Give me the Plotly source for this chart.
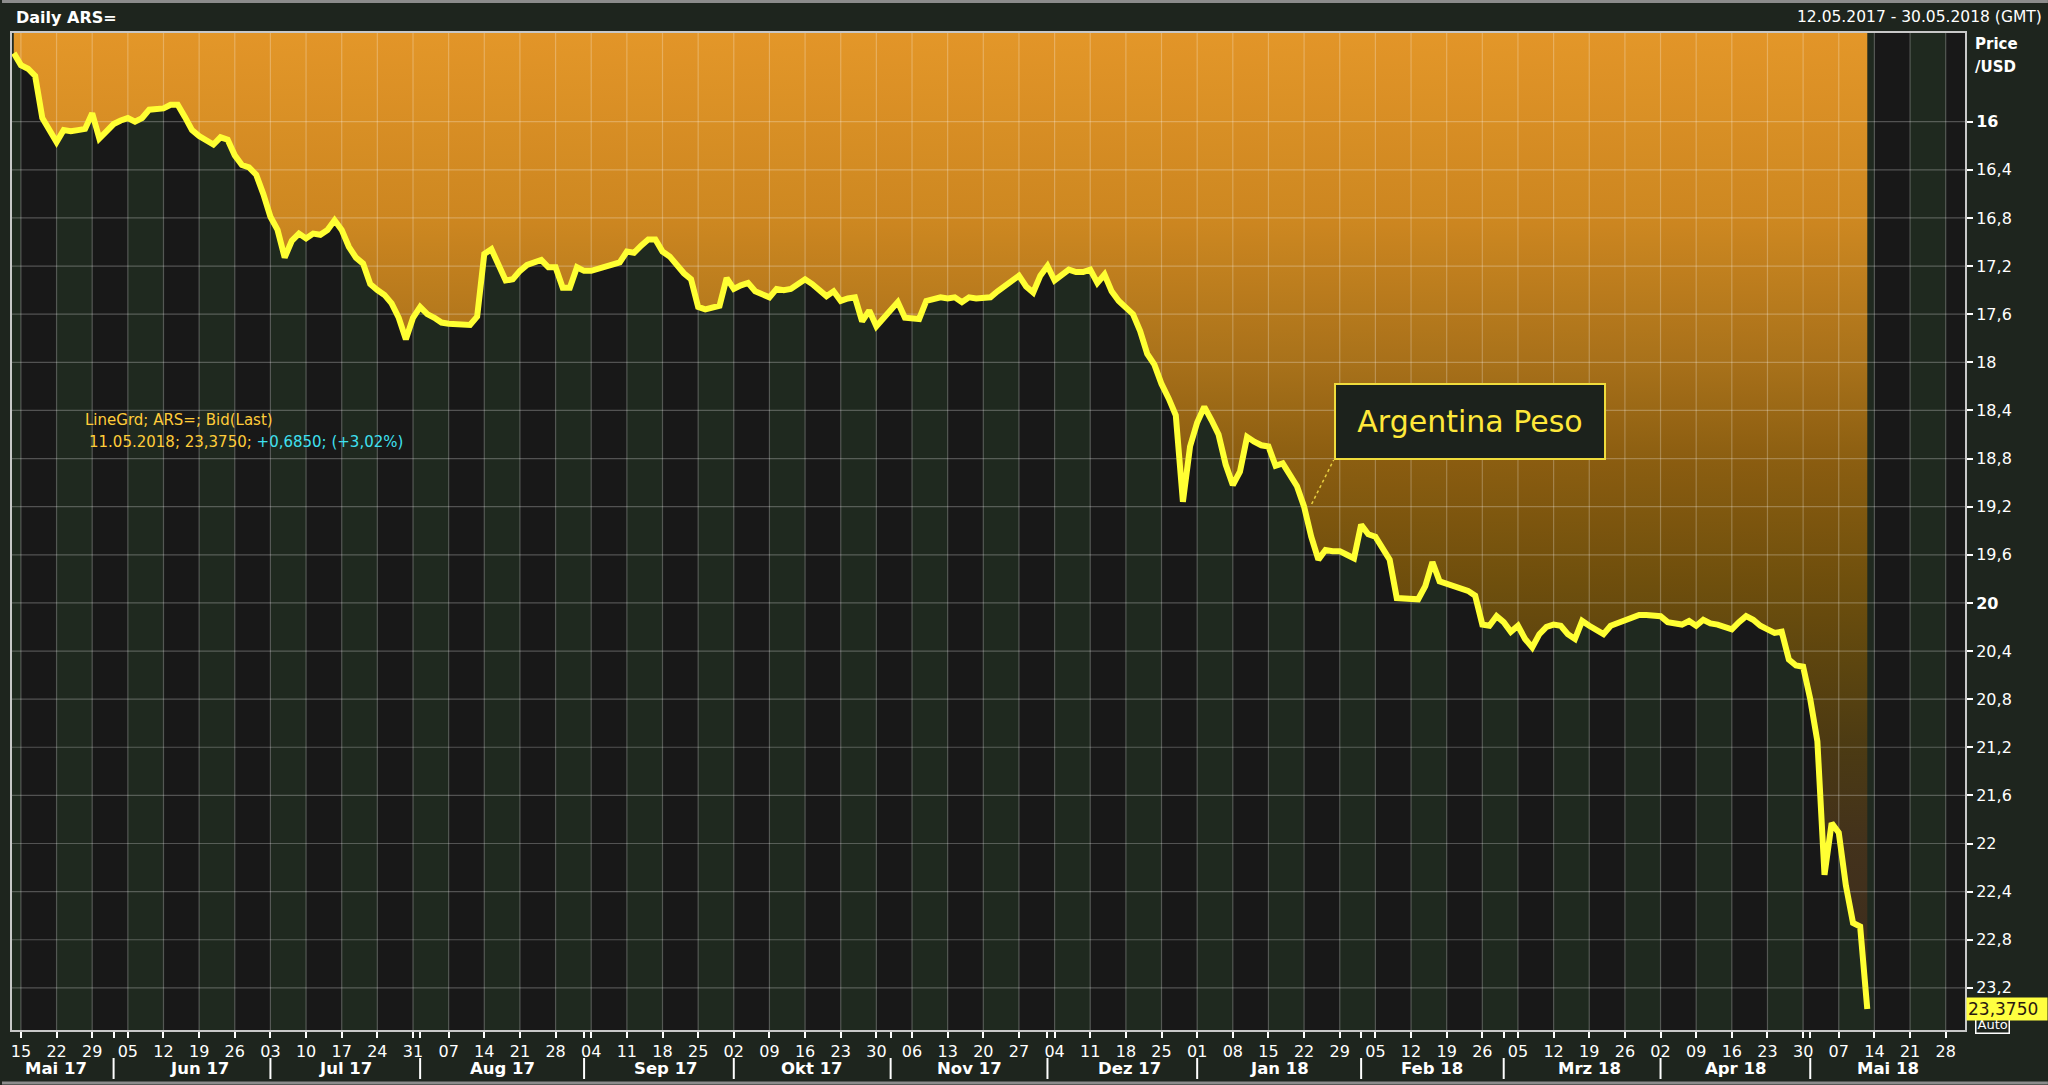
import pandas as pd
import plotly.graph_objects as go

# ARS= daily bid (last)
DATES = [
    "2017-05-12", "2017-05-15", "2017-05-16", "2017-05-17", "2017-05-18", "2017-05-19", "2017-05-22",
    "2017-05-23", "2017-05-24", "2017-05-25", "2017-05-26", "2017-05-29", "2017-05-30", "2017-05-31",
    "2017-06-01", "2017-06-02", "2017-06-05", "2017-06-06", "2017-06-07", "2017-06-08", "2017-06-09",
    "2017-06-12", "2017-06-13", "2017-06-14", "2017-06-15", "2017-06-16", "2017-06-19", "2017-06-20",
    "2017-06-21", "2017-06-22", "2017-06-23", "2017-06-26", "2017-06-27", "2017-06-28", "2017-06-29",
    "2017-06-30",
    "2017-07-03", "2017-07-04", "2017-07-05", "2017-07-06", "2017-07-07", "2017-07-10", "2017-07-11",
    "2017-07-12", "2017-07-13", "2017-07-14", "2017-07-17", "2017-07-18", "2017-07-19", "2017-07-20",
    "2017-07-21", "2017-07-24", "2017-07-25", "2017-07-26", "2017-07-27", "2017-07-28", "2017-07-31",
    "2017-08-01", "2017-08-02", "2017-08-03", "2017-08-04", "2017-08-07", "2017-08-08", "2017-08-09",
    "2017-08-10", "2017-08-11", "2017-08-14", "2017-08-15", "2017-08-16", "2017-08-17", "2017-08-18",
    "2017-08-21", "2017-08-22", "2017-08-23", "2017-08-24", "2017-08-25", "2017-08-28", "2017-08-29",
    "2017-08-30", "2017-08-31",
    "2017-09-01", "2017-09-04", "2017-09-05", "2017-09-06", "2017-09-07", "2017-09-08", "2017-09-11",
    "2017-09-12", "2017-09-13", "2017-09-14", "2017-09-15", "2017-09-18", "2017-09-19", "2017-09-20",
    "2017-09-21", "2017-09-22", "2017-09-25", "2017-09-26", "2017-09-27", "2017-09-28", "2017-09-29",
    "2017-10-02", "2017-10-03", "2017-10-04", "2017-10-05", "2017-10-06", "2017-10-09", "2017-10-10",
    "2017-10-11", "2017-10-12", "2017-10-13", "2017-10-16", "2017-10-17", "2017-10-18", "2017-10-19",
    "2017-10-20", "2017-10-23", "2017-10-24", "2017-10-25", "2017-10-26", "2017-10-27", "2017-10-30",
    "2017-10-31",
    "2017-11-01", "2017-11-02", "2017-11-03", "2017-11-06", "2017-11-07", "2017-11-08", "2017-11-09",
    "2017-11-10", "2017-11-13", "2017-11-14", "2017-11-15", "2017-11-16", "2017-11-17", "2017-11-20",
    "2017-11-21", "2017-11-22", "2017-11-23", "2017-11-24", "2017-11-27", "2017-11-28", "2017-11-29",
    "2017-11-30",
    "2017-12-01", "2017-12-04", "2017-12-05", "2017-12-06", "2017-12-07", "2017-12-08", "2017-12-11",
    "2017-12-12", "2017-12-13", "2017-12-14", "2017-12-15", "2017-12-18", "2017-12-19", "2017-12-20",
    "2017-12-21", "2017-12-22", "2017-12-25", "2017-12-26", "2017-12-27", "2017-12-28", "2017-12-29",
    "2018-01-01", "2018-01-02", "2018-01-03", "2018-01-04", "2018-01-05", "2018-01-08", "2018-01-09",
    "2018-01-10", "2018-01-11", "2018-01-12", "2018-01-15", "2018-01-16", "2018-01-17", "2018-01-18",
    "2018-01-19", "2018-01-22", "2018-01-23", "2018-01-24", "2018-01-25", "2018-01-26", "2018-01-29",
    "2018-01-30", "2018-01-31",
    "2018-02-01", "2018-02-02", "2018-02-05", "2018-02-06", "2018-02-07", "2018-02-08", "2018-02-09",
    "2018-02-12", "2018-02-13", "2018-02-14", "2018-02-15", "2018-02-16", "2018-02-19", "2018-02-20",
    "2018-02-21", "2018-02-22", "2018-02-23", "2018-02-26", "2018-02-27", "2018-02-28",
    "2018-03-01", "2018-03-02", "2018-03-05", "2018-03-06", "2018-03-07", "2018-03-08", "2018-03-09",
    "2018-03-12", "2018-03-13", "2018-03-14", "2018-03-15", "2018-03-16", "2018-03-19", "2018-03-20",
    "2018-03-21", "2018-03-22", "2018-03-23", "2018-03-26", "2018-03-27", "2018-03-28", "2018-03-29",
    "2018-04-02", "2018-04-03", "2018-04-04", "2018-04-05", "2018-04-06", "2018-04-09", "2018-04-10",
    "2018-04-11", "2018-04-12", "2018-04-13", "2018-04-16", "2018-04-17", "2018-04-18", "2018-04-19",
    "2018-04-20", "2018-04-23", "2018-04-24", "2018-04-25", "2018-04-26", "2018-04-27", "2018-04-30",
    "2018-05-01", "2018-05-02", "2018-05-03", "2018-05-04", "2018-05-07", "2018-05-08", "2018-05-09",
    "2018-05-10", "2018-05-11",
]
PRICES = [
    15.43, 15.53, 15.56, 15.62, 15.97, 16.08, 16.17, 16.07, 16.08, 16.07, 16.06, 15.93, 16.14, 16.08,
    16.02, 15.99, 15.97, 16.00, 15.97, 15.90, 15.89, 15.89, 15.86, 15.86, 15.96, 16.07, 16.12, 16.16,
    16.19, 16.13, 16.15, 16.28, 16.36, 16.38, 16.44, 16.60,
    16.79, 16.90, 17.13, 16.99, 16.93, 16.97, 16.93, 16.94, 16.90, 16.82, 16.90, 17.04, 17.13, 17.18,
    17.35, 17.40, 17.44, 17.51, 17.63, 17.81, 17.63,
    17.54, 17.60, 17.63, 17.67, 17.68, 17.68, 17.68, 17.69, 17.62, 17.10, 17.06, 17.18, 17.32, 17.31,
    17.24, 17.19, 17.17, 17.15, 17.21, 17.21, 17.38, 17.38, 17.21,
    17.24, 17.24, 17.22, 17.20, 17.18, 17.17, 17.08, 17.09, 17.03, 16.98, 16.98, 17.08, 17.12, 17.20,
    17.26, 17.31, 17.54, 17.56, 17.55, 17.53, 17.30,
    17.39, 17.36, 17.34, 17.41, 17.44, 17.46, 17.39, 17.40, 17.39, 17.35, 17.31, 17.35, 17.40, 17.45,
    17.41, 17.49, 17.47, 17.46, 17.66, 17.57, 17.70, 17.63,
    17.56, 17.50, 17.63, 17.63, 17.64, 17.49, 17.48, 17.46, 17.47, 17.46, 17.50, 17.46, 17.47, 17.46,
    17.46, 17.41, 17.37, 17.33, 17.28, 17.37, 17.42, 17.28,
    17.20, 17.32, 17.28, 17.23, 17.25, 17.25, 17.23, 17.34, 17.27, 17.41, 17.49, 17.54, 17.60, 17.74,
    17.93, 18.02, 18.18, 18.30, 18.44, 19.16, 18.70,
    18.50, 18.37, 18.48, 18.60, 18.85, 19.02, 18.91, 18.62, 18.66, 18.69, 18.70, 18.86, 18.84, 18.93,
    19.03, 19.20, 19.45, 19.64, 19.56, 19.57, 19.57, 19.60, 19.63,
    19.35, 19.43, 19.45, 19.55, 19.64, 19.96, 19.96, 19.96, 19.97, 19.86, 19.66, 19.82, 19.84, 19.85,
    19.88, 19.90, 19.94, 20.18, 20.19, 20.11,
    20.16, 20.24, 20.19, 20.30, 20.37, 20.26, 20.20, 20.18, 20.19, 20.26, 20.30, 20.15, 20.19, 20.22,
    20.26, 20.19, 20.17, 20.15, 20.12, 20.10, 20.10,
    20.11, 20.16, 20.17, 20.18, 20.15, 20.19, 20.14, 20.17, 20.18, 20.20, 20.22, 20.16, 20.11, 20.14,
    20.19, 20.22, 20.25, 20.24, 20.47, 20.52, 20.53,
    20.80, 21.15, 22.26, 21.83, 21.91, 22.35, 22.66, 22.69, 23.375,
]

Y_TICKS = [16.0, 16.4, 16.8, 17.2, 17.6, 18.0, 18.4, 18.8, 19.2, 19.6,
           20.0, 20.4, 20.8, 21.2, 21.6, 22.0, 22.4, 22.8, 23.2]
Y_TICK_LABELS = ["<b>16</b>", "16,4", "16,8", "17,2", "17,6", "18", "18,4", "18,8", "19,2", "19,6",
                 "<b>20</b>", "20,4", "20,8", "21,2", "21,6", "22", "22,4", "22,8", "23,2"]
MONTH_LABELS = ["Mai 17", "Jun 17", "Jul 17", "Aug 17", "Sep 17", "Okt 17", "Nov 17",
                "Dez 17", "Jan 18", "Feb 18", "Mrz 18", "Apr 18", "Mai 18"]

X_START, X_END = "2017-05-11 18:00", "2018-05-30 17:00"
Y_TOP, Y_BOTTOM = 15.263, 23.55
FILL_TOP = 15.0

W, H = 2048, 1085
ML, MR, MT, MB = 10, 83, 33, 55
FONT = "DejaVu Sans"
BG = "#1e251e"
BLACK_COL = "#181818"
GREEN_COL = "#1f291f"

# orange "LineGrd" gradient, slightly see-through so the grid shows
FILL_SCALE = [
    [0.00, "rgba(249,163,42,0.9)"],
    [0.19, "rgba(224,146,33,0.9)"],
    [0.33, "rgba(184,122,26,0.9)"],
    [0.43, "rgba(151,100,15,0.9)"],
    [0.55, "rgba(120,84,11,0.9)"],
    [0.63, "rgba(100,73,13,0.9)"],
    [0.72, "rgba(80,60,18,0.9)"],
    [0.81, "rgba(71,51,27,0.9)"],
    [1.00, "rgba(60,42,30,0.9)"],
]


def px_x(p):
    return (p - ML) / (W - ML - MR)


def px_y(p):
    return (H - MB - p) / (H - MT - MB)


def de(v, n):
    return f"{v:.{n}f}".replace(".", ",")


def main():
    assert len(DATES) == len(PRICES)
    dates = pd.to_datetime(DATES)
    x0, x1 = pd.Timestamp(X_START), pd.Timestamp(X_END)
    mondays = pd.date_range("2017-05-08", "2018-05-28", freq="W-MON")
    week_ticks = mondays[1:]
    month_starts = pd.date_range("2017-05-01", "2018-06-30", freq="BMS")

    fig = go.Figure()

    # area between the top of the plot and the price line
    fig.add_trace(go.Scatter(x=dates, y=[FILL_TOP] * len(dates), mode="lines",
                             line=dict(width=0), hoverinfo="skip", showlegend=False))
    fig.add_trace(go.Scatter(x=dates, y=PRICES, mode="lines", line=dict(width=0),
                             fill="tonexty",
                             fillgradient=dict(type="vertical", colorscale=FILL_SCALE,
                                               start=Y_TOP, stop=Y_BOTTOM),
                             hoverinfo="skip", showlegend=False))

    # grid as a trace: above the fill, below the line
    gx, gy = [], []
    for d in week_ticks:
        gx += [d, d, None]
        gy += [Y_BOTTOM + 1, FILL_TOP - 1, None]
    for v in Y_TICKS:
        gx += [x0 - pd.Timedelta(days=7), x1 + pd.Timedelta(days=7), None]
        gy += [v, v, None]
    fig.add_trace(go.Scatter(x=gx, y=gy, mode="lines",
                             line=dict(color="rgba(255,255,255,0.25)", width=1.2),
                             hoverinfo="skip", showlegend=False))

    fig.add_trace(go.Scatter(x=dates, y=PRICES, mode="lines",
                             line=dict(color="#ffff33", width=6),
                             hoverinfo="skip", showlegend=False))

    shapes = []
    # alternating weekly columns
    for i, d in enumerate(mondays):
        if i % 2 == 0:
            shapes.append(dict(type="rect", xref="x", yref="paper", x0=d, x1=d + pd.Timedelta(days=7),
                               y0=0, y1=1, fillcolor=GREEN_COL, line=dict(width=0), layer="below"))
    # month separators under the day labels
    for d in month_starts[1:-1]:
        shapes.append(dict(type="line", xref="x", yref="paper", x0=d, x1=d,
                           y0=px_y(1058), y1=px_y(1079), line=dict(color="white", width=2)))
    # leader from the label box to the line
    shapes.append(dict(type="line", xref="paper", yref="paper",
                       x0=px_x(1311), y0=px_y(504), x1=px_x(1333), y1=px_y(460),
                       line=dict(color="#e8d040", width=1.5, dash="dot")))
    # window frame lines
    for yy in (1.5, 1083):
        shapes.append(dict(type="line", xref="paper", yref="paper", x0=px_x(0), x1=px_x(W),
                           y0=px_y(yy), y1=px_y(yy), line=dict(color="#8c8c8c", width=3)))

    annotations = []
    for i, label in enumerate(MONTH_LABELS):
        a = max(month_starts[i], x0)
        b = min(month_starts[i + 1], x1)
        annotations.append(dict(x=a + (b - a) / 2, y=px_y(1068), xref="x", yref="paper",
                                text=f"<b>{label}</b>", showarrow=False, yanchor="middle",
                                font=dict(family=FONT, size=16.5, color="white")))

    last, prev = PRICES[-1], PRICES[-2]
    chg = last - prev
    pct = chg / prev * 100
    legend2 = (f"{dates[-1].strftime('%d.%m.%Y')}; {de(last, 4)}; "
               f"<span style='color:#3fe0f0'>+{de(chg, 4)}; (+{de(pct, 2)}%)</span>")

    annotations += [
        dict(x=px_x(12), y=px_y(17), xref="paper", yref="paper", text="<b>Daily ARS=</b>",
             showarrow=False, xanchor="left", yanchor="middle",
             font=dict(family=FONT, size=16, color="white")),
        dict(x=px_x(2044), y=px_y(17), xref="paper", yref="paper",
             text="12.05.2017 - 30.05.2018 (GMT)", showarrow=False, xanchor="right",
             yanchor="middle", font=dict(family=FONT, size=15.5, color="white")),
        dict(x=px_x(1973), y=px_y(44), xref="paper", yref="paper", text="<b>Price</b>",
             showarrow=False, xanchor="left", yanchor="middle",
             font=dict(family=FONT, size=15, color="white")),
        dict(x=px_x(1973), y=px_y(67), xref="paper", yref="paper", text="<b>/USD</b>",
             showarrow=False, xanchor="left", yanchor="middle",
             font=dict(family=FONT, size=15, color="white")),
        dict(x=px_x(81), y=px_y(420), xref="paper", yref="paper",
             text="LineGrd; ARS=; Bid(Last)", showarrow=False, xanchor="left", yanchor="middle",
             font=dict(family=FONT, size=15, color="#ffcc3a")),
        dict(x=px_x(85), y=px_y(442), xref="paper", yref="paper", text=legend2,
             showarrow=False, xanchor="left", yanchor="middle",
             font=dict(family=FONT, size=15, color="#ffcc3a")),
        dict(x=px_x(1469), y=px_y(421.5), xref="paper", yref="paper", text="Argentina Peso",
             showarrow=False, xanchor="center", yanchor="middle", width=266, height=71,
             bgcolor="#1c221c", bordercolor="#f0dc3c", borderwidth=2, borderpad=1,
             font=dict(family=FONT, size=30, color="#ffe83a")),
        dict(x=px_x(1975), y=px_y(1024), xref="paper", yref="paper", text="Auto",
             showarrow=False, xanchor="left", yanchor="middle", bgcolor=BG,
             bordercolor="white", borderwidth=1.5, borderpad=1,
             font=dict(family=FONT, size=13, color="white")),
        dict(x=px_x(1966), y=last, xref="paper", yref="y", text=de(last, 4),
             showarrow=False, xanchor="left", yanchor="middle", width=78, align="left",
             bgcolor="#ffff40", borderpad=1,
             font=dict(family=FONT, size=17, color="#2a1a10")),
    ]

    axis_line = dict(showline=True, linecolor="#c8c8c8", linewidth=2, mirror=True,
                     showgrid=False, zeroline=False, fixedrange=True)

    fig.update_layout(
        width=W, height=H,
        margin=dict(l=ML, r=MR, t=MT, b=MB, pad=0),
        paper_bgcolor=BG, plot_bgcolor=BLACK_COL,
        separators=",.",
        showlegend=False,
        hovermode=False,
        shapes=shapes,
        annotations=annotations,
        xaxis=dict(
            type="date", range=[x0, x1],
            rangebreaks=[dict(bounds=["sat", "mon"])],
            tickmode="array", tickvals=list(week_ticks),
            ticktext=[d.strftime("%d") for d in week_ticks],
            ticks="outside", ticklen=6, tickwidth=1.5, tickcolor="white",
            tickfont=dict(family=FONT, size=16, color="white"),
            minor=dict(tickmode="array", tickvals=list(month_starts), ticks="outside",
                       ticklen=6, tickwidth=1.5, tickcolor="white", showgrid=False),
            **axis_line,
        ),
        yaxis=dict(
            range=[Y_BOTTOM, Y_TOP], side="right",
            tickmode="array", tickvals=Y_TICKS, ticktext=Y_TICK_LABELS,
            ticks="outside", ticklen=6, tickwidth=1.5, tickcolor="white",
            tickfont=dict(family=FONT, size=16, color="white"),
            **axis_line,
        ),
    )

    # the page's default body margin would push the figure off the window
    fig.write_html("out.html", config={"displayModeBar": False},
                   post_script="document.body.style.margin='0';")


if __name__ == "__main__":
    main()
